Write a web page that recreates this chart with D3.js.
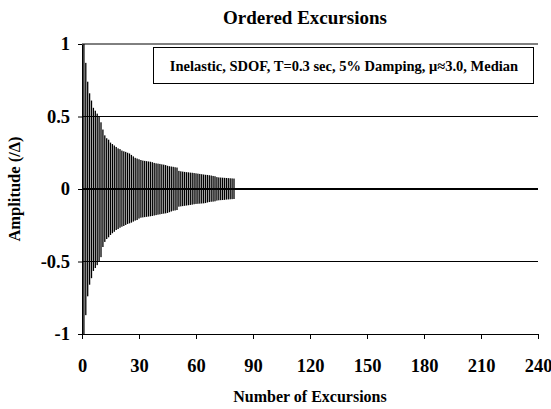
<!DOCTYPE html>
<html>
<head>
<meta charset="utf-8">
<script src="https://cdn.jsdelivr.net/npm/d3@7"></script>
<style>
  body { margin: 0; background: #fff; }
  svg { display: block; font-family: "Liberation Serif", "Times New Roman", serif; font-weight: bold; }
</style>
</head>
<body>
<svg id="chart" width="551" height="409"></svg>
<script>
// Ordered excursion amplitudes (normalised), excursion number 1..80
const positive = [1.00, 0.87, 0.74, 0.66, 0.61, 0.56, 0.54, 0.52, 0.50, 0.46,
    0.41, 0.37, 0.35, 0.34, 0.32, 0.31, 0.30, 0.29, 0.28, 0.275,
    0.265, 0.26, 0.256, 0.25, 0.245, 0.235, 0.225, 0.215, 0.21, 0.205,
    0.20, 0.196, 0.194, 0.192, 0.19, 0.188, 0.185, 0.18, 0.177, 0.175,
    0.173, 0.17, 0.168, 0.165, 0.16, 0.157, 0.155, 0.153, 0.15, 0.148,
    0.125, 0.122, 0.12, 0.118, 0.116, 0.115, 0.113, 0.112, 0.11, 0.108,
    0.106, 0.104, 0.102, 0.10, 0.098, 0.097, 0.095, 0.093, 0.09, 0.088,
    0.082, 0.08, 0.079, 0.078, 0.077, 0.076, 0.075, 0.074, 0.073, 0.072];
const negative = [-1.0, -0.87, -0.74, -0.66, -0.615, -0.565, -0.545, -0.525, -0.50, -0.47,
    -0.40, -0.365, -0.345, -0.333, -0.317, -0.305, -0.295, -0.283, -0.276, -0.267,
    -0.26, -0.255, -0.248, -0.241, -0.237, -0.232, -0.225, -0.218, -0.214, -0.204,
    -0.198, -0.196, -0.194, -0.192, -0.19, -0.188, -0.186, -0.183, -0.18, -0.177,
    -0.175, -0.172, -0.17, -0.168, -0.165, -0.16, -0.155, -0.15, -0.148, -0.145,
    -0.122, -0.12, -0.118, -0.116, -0.114, -0.112, -0.11, -0.108, -0.105, -0.103,
    -0.102, -0.101, -0.10, -0.099, -0.097, -0.093, -0.09, -0.088, -0.087, -0.085,
    -0.08, -0.078, -0.077, -0.076, -0.075, -0.073, -0.072, -0.071, -0.07, -0.069];
const xTicks = [0, 30, 60, 90, 120, 150, 180, 210, 240];
const yTicks = [-1, -0.5, 0, 0.5, 1];
const gridValues = [1, 0.5, -0.5];

const svg = d3.select('#chart');
const margin = { left: 82, right: 13, top: 44, bottom: 75 };
const width = 551, height = 409;

const x = d3.scaleLinear().domain([0, 240]).range([margin.left, width - margin.right]);
const y = d3.scaleLinear().domain([-1, 1]).range([height - margin.bottom, margin.top]);

// title
svg.append('text')
    .attr('x', 305).attr('y', 24)
    .attr('text-anchor', 'middle')
    .attr('font-size', 19)
    .text('Ordered Excursions');

// gridlines
svg.append('g').selectAll('line')
    .data(gridValues)
    .enter().append('line')
    .attr('x1', x(0)).attr('x2', x(240))
    .attr('y1', d => y(d)).attr('y2', d => y(d))
    .attr('stroke', '#000').attr('stroke-width', 1);

// bars
const bars = svg.append('g').attr('fill', '#000');
const barW = 1.3;
bars.selectAll('rect.pos')
    .data(positive)
    .enter().append('rect')
    .attr('class', 'pos')
    .attr('x', (d, i) => x(i + 1) - barW / 2)
    .attr('width', barW)
    .attr('y', d => y(d))
    .attr('height', d => y(0) - y(d));
bars.selectAll('rect.neg')
    .data(negative)
    .enter().append('rect')
    .attr('class', 'neg')
    .attr('x', (d, i) => x(i + 1) - barW / 2)
    .attr('width', barW)
    .attr('y', y(0))
    .attr('height', d => y(d) - y(0));

// zero line
svg.append('line')
    .attr('x1', x(0)).attr('x2', x(240))
    .attr('y1', y(0)).attr('y2', y(0))
    .attr('stroke', '#000').attr('stroke-width', 2);

// axes
const xAxis = svg.append('g')
    .attr('transform', `translate(0,${y(-1)})`)
    .call(d3.axisBottom(x).tickValues(xTicks).tickSize(5).tickSizeOuter(0));
xAxis.selectAll('text').attr('y', 0).attr('dy', 38).attr('font-size', 18.5)
    .attr('font-family', '"Liberation Serif", serif').attr('font-weight', 'bold');

const yAxis = svg.append('g')
    .attr('transform', `translate(${x(0)},0)`)
    .call(d3.axisLeft(y).tickValues(yTicks).tickSize(4).tickSizeOuter(0)
        .tickFormat(d => String(d)));
yAxis.selectAll('text').attr('x', -12).attr('font-size', 18.5)
    .attr('font-family', '"Liberation Serif", serif').attr('font-weight', 'bold');
svg.selectAll('.domain, .tick line').attr('stroke', '#000').attr('stroke-width', 1);

// axis titles
svg.append('text')
    .attr('x', 310).attr('y', 402)
    .attr('text-anchor', 'middle')
    .attr('font-size', 16)
    .text('Number of Excursions');
svg.append('text')
    .attr('transform', `translate(20,${y(0)}) rotate(-90)`)
    .attr('text-anchor', 'middle')
    .attr('font-size', 16.5)
    .text('Amplitude (/Δ)');

// legend box
const lg = svg.append('g');
lg.append('rect')
    .attr('x', 153.5).attr('y', 47.5)
    .attr('width', 380).attr('height', 36)
    .attr('fill', '#fff').attr('stroke', '#000');
lg.append('text')
    .attr('x', 344).attr('y', 71)
    .attr('text-anchor', 'middle')
    .attr('font-size', 14.5)
    .text('Inelastic, SDOF, T=0.3 sec, 5% Damping, μ≈3.0, Median');
</script>
</body>
</html>
